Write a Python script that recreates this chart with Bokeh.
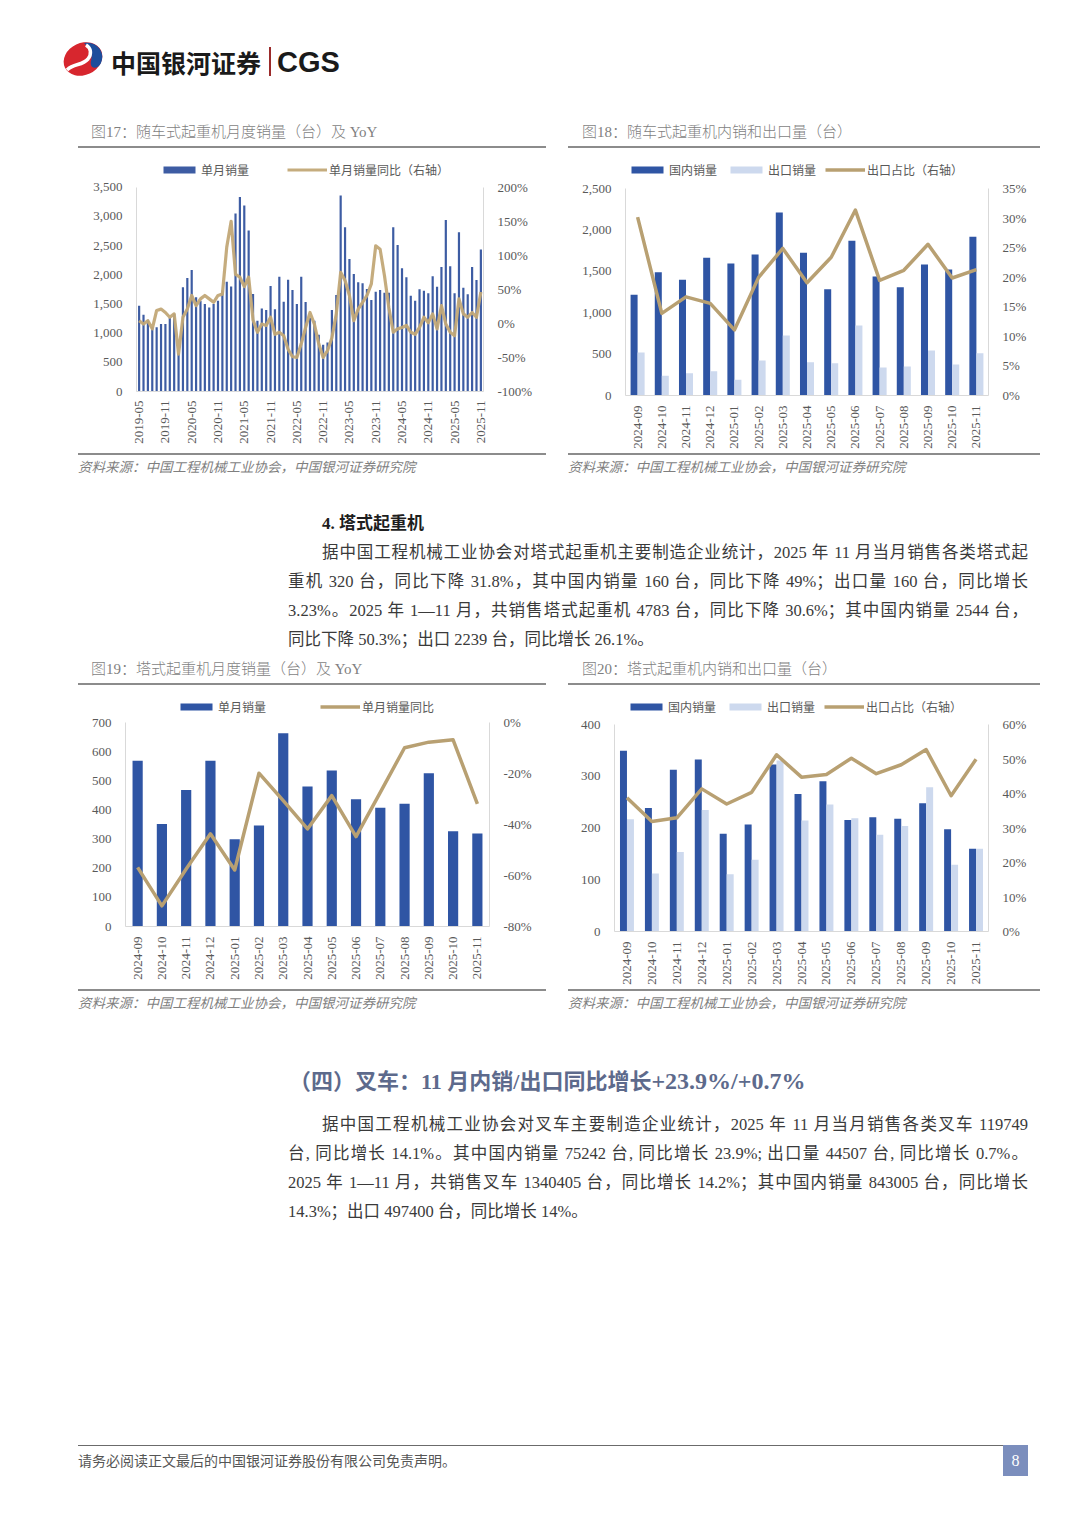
import math
from bokeh.plotting import figure
from bokeh.models import (Range1d, LinearAxis, FixedTicker, NumeralTickFormatter,
                          PrintfTickFormatter, Legend, LegendItem, Div, Spacer,
                          FactorRange, ColumnDataSource)
from bokeh.layouts import column, row
from bokeh.transform import dodge
from bokeh.embed import file_html
from bokeh.resources import INLINE

# ---------------- data ----------------
# Fig17: truck-mounted crane monthly sales 2019-05 .. 2025-11
f17_months = [f"{y}-{m:02d}" for y in range(2019, 2026) for m in range(1, 13)][4:4 + 79]
f17_tick_labels = ["2019-05", "2019-11", "2020-05", "2020-11", "2021-05", "2021-11", "2022-05",
                   "2022-11", "2023-05", "2023-11", "2024-05", "2024-11", "2025-05", "2025-11"]
f17_sales = [1470, 1316, 1230, 1110, 1100, 1155, 1155, 1260, 1330, 650,
             1785, 1945, 2080, 1613, 1555, 1500, 1440, 1500, 1555, 1730,
             1880, 1800, 3050, 3330, 3185, 2757, 1670, 1213, 1424, 1396,
             1808, 1407, 1968, 1539, 1916, 1739, 1499, 1968, 1533, 1258,
             1213, 972, 800, 840, 1396, 1653, 3357, 2814, 2270, 2013,
             1870, 1853, 1756, 1567, 1710, 1739, 1693, 1693, 2814, 2511,
             2111, 1956, 1642, 1556, 1750, 1727, 1682, 1973, 1796, 2134,
             2940, 2145, 1682, 2728, 1779, 1665, 2134, 1910, 2431]
f17_yoy = [4, -1, 4, -8, 19, 21, 16, 9, 14, -45,
           9, 21, 41, 26, 36, 41, 36, 31, 41, 43,
           112, 150, 72, 68, 54, 68, 5, -13, -1, -3,
           9, -16, -13, -18, -38, -49, -50, -30, -6, 16,
           -1, -30, -50, -40, -21, 14, 75, 63, 41, 4,
           21, 31, 41, 58, 114, 109, 70, 23, -13, -8,
           -6, -3, -13, -16, -6, 9, 1, 14, -8, 26,
           -1, -13, -18, 36, 14, 9, 16, 9, 46]

# Fig18: truck-mounted crane domestic / export
f18_months = ["2024-09", "2024-10", "2024-11", "2024-12", "2025-01", "2025-02", "2025-03", "2025-04",
              "2025-05", "2025-06", "2025-07", "2025-08", "2025-09", "2025-10", "2025-11"]
f18_domestic = [1218, 1492, 1399, 1665, 1597, 1706, 2214, 1726, 1286, 1871, 1440, 1310, 1585, 1524, 1919]
f18_export = [520, 238, 270, 294, 190, 423, 726, 403, 391, 847, 339, 351, 544, 375, 512]
f18_share = [30.2, 13.9, 16.7, 15.6, 11.1, 20.0, 24.9, 19.1, 23.4, 31.4, 19.5, 21.2, 25.6, 19.9, 21.3]

# Fig19: tower crane monthly sales and YoY
f19_months = f18_months
f19_sales = [570, 352, 469, 570, 300, 347, 664, 481, 536, 437, 408, 422, 527, 327, 320]
f19_yoy = [-56.8, -71.9, -57.4, -43.6, -57.8, -19.8, -30.6, -41.7, -28.6, -44.7, -27.3, -9.8, -7.6, -6.7, -31.8]

# Fig20: tower crane domestic / export
f20_months = f18_months
f20_domestic = [350, 239, 313, 333, 189, 207, 323, 266, 291, 216, 221, 218, 248, 198, 160]
f20_export = [217, 112, 154, 235, 111, 139, 331, 215, 246, 219, 187, 204, 279, 129, 160]
f20_share = [38.8, 31.9, 33.0, 41.4, 37.0, 40.4, 51.3, 44.8, 45.6, 50.3, 45.8, 48.4, 52.8, 39.4, 50.0]

# ---------------- styles ----------------
SERIF = "Liberation Serif"
CJK = "Noto Sans CJK SC"
BODY = "'Liberation Serif','Noto Sans CJK SC',serif"
TICK_COLOR = "#595959"
AXIS_LINE = "#d9d9d9"
BAR17 = "#3d5ca3"
DOM_BLUE = "#2f55a4"
EXP_BLUE = "#cdd9ee"
GOLD = "#b8a072"
RULE = "#8c8c8c"
TOP_BORDER = 6           # frame starts this far below the figure top (legend sits in the frame's top strip)
LEGEND_CENTER = 22       # legend centre, px below the figure top


def style_axis(ax, standoff):
    ax.axis_line_color = AXIS_LINE
    ax.axis_line_width = 1
    ax.major_tick_line_color = None
    ax.minor_tick_line_color = None
    ax.major_tick_out = 0
    ax.major_tick_in = 0
    ax.minor_tick_out = 0
    ax.minor_tick_in = 0
    ax.major_label_text_font = SERIF
    ax.major_label_text_font_size = "13px"
    ax.major_label_text_color = TICK_COLOR
    ax.major_label_standoff = standoff


def chart(width, height, x_range, left, right, bottom, data_px, lo, hi, step, rlo, rhi, rstep, left_fmt):
    """Figure whose axes run lo..hi (left) and rlo..rhi (right) over data_px pixels,
    with an empty strip above them for the legend."""
    frame_h = height - TOP_BORDER - bottom
    k = frame_h / data_px
    p = figure(width=width, height=height, x_range=x_range,
               y_range=Range1d(lo, lo + (hi - lo) * k),
               output_backend="svg", toolbar_location=None,
               min_border_left=left, min_border_right=right,
               min_border_top=TOP_BORDER, min_border_bottom=bottom, margin=0)
    p.outline_line_color = None
    p.xgrid.visible = False
    p.ygrid.visible = False
    style_axis(p.yaxis[0], 14)
    p.yaxis[0].ticker = FixedTicker(ticks=list(range(lo, hi + 1, step)))
    p.yaxis[0].bounds = (lo, hi)
    if left_fmt:
        p.yaxis[0].formatter = NumeralTickFormatter(format="0,0")
    style_axis(p.xaxis[0], 10)
    p.xaxis[0].major_label_orientation = math.pi / 2
    p.extra_y_ranges = {"r": Range1d(rlo, rlo + (rhi - rlo) * k)}
    ax = LinearAxis(y_range_name="r", ticker=FixedTicker(ticks=list(range(rlo, rhi + 1, rstep))),
                    formatter=PrintfTickFormatter(format="%d%%"), bounds=(rlo, rhi))
    style_axis(ax, 14)
    p.add_layout(ax, "right")
    return p, frame_h


def add_legend(p, items, spacing, x_off, frame_h):
    # location is measured in screen px from the frame's bottom-left corner
    y_bottom = frame_h - (LEGEND_CENTER - TOP_BORDER) - 8
    leg = Legend(items=items, orientation="horizontal", location=(x_off, y_bottom),
                 glyph_width=40, glyph_height=9, label_text_font=CJK,
                 label_text_font_size="12px", label_text_color=TICK_COLOR,
                 label_standoff=2, spacing=spacing, padding=0, margin=0,
                 label_height=16, border_line_color=None, background_fill_alpha=0)
    p.add_layout(leg)


def title_div(text, width, height, pad_left):
    html = (f'<div style="box-sizing:border-box;width:{width}px;height:{height}px;'
            f'padding-top:{height - 26}px;padding-left:{pad_left}px;line-height:20px;'
            f'border-bottom:2px solid {RULE};font-family:{BODY};font-size:15px;'
            f'font-weight:300;color:#7f7f7f;white-space:nowrap;">{text}</div>')
    return Div(text=html, width=width, height=height, margin=0)


def source_div(width, height):
    html = (f'<div style="box-sizing:border-box;width:{width}px;height:{height}px;'
            f'padding-top:4px;line-height:18px;border-top:2px solid {RULE};'
            f'font-family:{BODY};font-size:13.5px;font-style:italic;color:#7f7f7f;'
            f'white-space:nowrap;">资料来源：中国工程机械工业协会，中国银河证券研究院</div>')
    return Div(text=html, width=width, height=height, margin=0)


# ---------------- Fig17 ----------------
x17 = list(range(len(f17_sales)))
p17, fh17 = chart(468, 305, Range1d(-0.6, len(f17_sales) - 0.4), 58, 63, 62, 204.3,
                  0, 3500, 500, -100, 200, 50, True)
tick_pos17 = [f17_months.index(t) for t in f17_tick_labels]
p17.xaxis[0].ticker = FixedTicker(ticks=tick_pos17)
p17.xaxis[0].major_label_overrides = {i: f17_months[i] for i in tick_pos17}
p17.xaxis[0].major_label_standoff = 9
r17b = p17.vbar(x=x17, top=f17_sales, width=0.5, fill_color=BAR17, line_color=None)
r17l = p17.line(x=x17, y=f17_yoy, y_range_name="r", line_width=3.2, line_color="#c2a877",
                line_alpha=0.95, line_join="round")
add_legend(p17, [LegendItem(label="单月销量", renderers=[r17b]),
                 LegendItem(label="单月销量同比（右轴）", renderers=[r17l])], 38, 23, fh17)


# ---------------- Fig18 / Fig20 (domestic vs export) ----------------
def dom_exp_fig(months, dom, exp, share, width, height, left, right, bottom, data_px,
                ymax, ystep, rmax, rstep, bw, x_off):
    src = ColumnDataSource(dict(m=months, dom=dom, exp=exp, share=share))
    p, fh = chart(width, height, FactorRange(*months), left, right, bottom, data_px,
                  0, ymax, ystep, 0, rmax, rstep, True)
    rb1 = p.vbar(x=dodge("m", -bw / 2, range=p.x_range), top="dom", width=bw, source=src,
                 fill_color=DOM_BLUE, line_color=None)
    rb2 = p.vbar(x=dodge("m", bw / 2, range=p.x_range), top="exp", width=bw, source=src,
                 fill_color=EXP_BLUE, line_color=None)
    rl = p.line(x="m", y="share", y_range_name="r", source=src, line_width=3.5,
                line_color=GOLD, line_join="round")
    add_legend(p, [LegendItem(label="国内销量", renderers=[rb1]),
                   LegendItem(label="出口销量", renderers=[rb2]),
                   LegendItem(label="出口占比（右轴）", renderers=[rl])], 9, x_off, fh)
    return p


p18 = dom_exp_fig(f18_months, f18_domestic, f18_export, f18_share, 472, 305, 57, 52, 58, 206.7,
                  2500, 500, 35, 5, 0.29, 2)
p20 = dom_exp_fig(f20_months, f20_domestic, f20_export, f20_share, 472, 304, 46, 52, 58, 206.7,
                  400, 100, 60, 10, 0.28, 12)

# ---------------- Fig19 ----------------
src19 = ColumnDataSource(dict(m=f19_months, s=f19_sales, y=f19_yoy))
p19, fh19 = chart(468, 304, FactorRange(*f19_months), 47, 57, 63, 203.7,
                  0, 700, 100, -80, 0, 20, False)
r19b = p19.vbar(x="m", top="s", width=0.42, source=src19, fill_color=DOM_BLUE, line_color=None)
r19l = p19.line(x="m", y="y", y_range_name="r", source=src19, line_width=3.5,
                line_color=GOLD, line_join="round")
add_legend(p19, [LegendItem(label="单月销量", renderers=[r19b]),
                 LegendItem(label="单月销量同比", renderers=[r19l])], 54, 51, fh19)

# ---------------- page blocks ----------------
header_html = f'''
<div style="position:relative;width:1072px;height:115px;">
 <svg style="position:absolute;left:62px;top:41px" width="42" height="36" viewBox="0 0 42 36">
  <ellipse cx="21" cy="18" rx="20" ry="16" transform="rotate(-25 21 18)" fill="#d7262e"/>
  <path d="M22,2 C34,0 44,10 39,22 C36,29 27,28 29,20 C31,13 27,7 22,2 Z" fill="#1d4d9b"/>
  <path d="M5,29 C12,22 20,25 26,18 C30,13 29,7 24,4" stroke="#ffffff" stroke-width="3.5" fill="none"/>
 </svg>
 <div style="position:absolute;left:111px;top:44px;line-height:36px;font-size:25px;font-weight:bold;
  font-family:'Noto Sans CJK SC';color:#1a1a1a;white-space:nowrap;">中国银河证券</div>
 <div style="position:absolute;left:269px;top:47px;width:2px;height:29px;background:#9b2b2b;"></div>
 <div style="position:absolute;left:277px;top:44px;line-height:36px;font-size:29px;font-weight:bold;
  font-family:'Liberation Sans';color:#1a1a1a;">CGS</div>
</div>'''
header = Div(text=header_html, width=1072, height=115, margin=0)

JUST = "text-align:justify;text-align-last:justify;white-space:nowrap;"
sec4_lines = [
    "据中国工程机械工业协会对塔式起重机主要制造企业统计，2025 年 11 月当月销售各类塔式起",
    "重机 320 台，同比下降 31.8%，其中国内销量 160 台，同比下降 49%；出口量 160 台，同比增长",
    "3.23%。2025 年 1—11 月，共销售塔式起重机 4783 台，同比下降 30.6%；其中国内销量 2544 台，",
    "同比下降 50.3%；出口 2239 台，同比增长 26.1%。",
]
fork_lines = [
    "据中国工程机械工业协会对叉车主要制造企业统计，2025 年 11 月当月销售各类叉车 119749",
    "台, 同比增长 14.1%。其中国内销量 75242 台, 同比增长 23.9%; 出口量 44507 台, 同比增长 0.7%。",
    "2025 年 1—11 月，共销售叉车 1340405 台，同比增长 14.2%；其中国内销量 843005 台，同比增长",
    "14.3%；出口 497400 台，同比增长 14%。",
]


def para_html(lines):
    out = []
    for i, ln in enumerate(lines):
        st = JUST if i < len(lines) - 1 else "white-space:nowrap;"
        ind = "text-indent:34px;" if i == 0 else ""
        out.append(f'<div style="{st}{ind}">{ln}</div>')
    return "".join(out)


sec4_html = f'''
<div style="position:relative;width:1072px;height:166px;font-family:{BODY};color:#3a3a3a;">
 <div style="position:absolute;left:322px;top:24px;line-height:29px;font-size:17px;font-weight:bold;
  color:#1e1e1e;white-space:nowrap;">4. 塔式起重机</div>
 <div style="position:absolute;left:288px;top:53px;width:740px;font-size:16.5px;line-height:29px;">
  {para_html(sec4_lines)}
 </div>
</div>'''
sec4 = Div(text=sec4_html, width=1072, height=166, margin=0)

fork_html = f'''
<div style="position:relative;width:1072px;height:210px;font-family:{BODY};color:#3a3a3a;">
 <div style="position:absolute;left:289px;top:46px;line-height:30px;font-size:22px;font-weight:bold;
  color:#5d6a8c;white-space:nowrap;">（四）叉车：11 月内销/出口同比增长<span style="font-size:24px">+23.9%/+0.7%</span></div>
 <div style="position:absolute;left:288px;top:90px;width:740px;font-size:16.5px;line-height:29px;">
  {para_html(fork_lines)}
 </div>
</div>'''
fork = Div(text=fork_html, width=1072, height=210, margin=0)

footer_html = f'''
<div style="position:relative;width:1072px;height:50px;">
 <div style="position:absolute;left:78px;top:5px;width:925px;height:0;border-top:1.5px solid #6b6b6b;"></div>
 <div style="position:absolute;left:1003px;top:5px;width:25px;height:31px;background:#7b8ebd;color:#ffffff;
  font-family:'Liberation Serif';font-size:16px;line-height:31px;text-align:center;">8</div>
 <div style="position:absolute;left:78px;top:12px;line-height:20px;font-size:14px;color:#555555;
  font-family:{BODY};white-space:nowrap;">请务必阅读正文最后的中国银河证券股份有限公司免责声明。</div>
</div>'''
footer = Div(text=footer_html, width=1072, height=50, margin=0)

col17 = column([title_div("图17：随车式起重机月度销量（台）及 YoY", 468, 33, 13), p17,
                source_div(468, 32)], spacing=0, margin=0)
col18 = column([title_div("图18：随车式起重机内销和出口量（台）", 472, 33, 14), p18,
                source_div(472, 32)], spacing=0, margin=0)
col19 = column([title_div("图19：塔式起重机月度销量（台）及 YoY", 468, 34, 13), p19,
                source_div(468, 31)], spacing=0, margin=0)
col20 = column([title_div("图20：塔式起重机内销和出口量（台）", 472, 34, 14), p20,
                source_div(472, 31)], spacing=0, margin=0)

row1 = row([Spacer(width=78, height=10, margin=0), col17, Spacer(width=22, height=10, margin=0), col18],
           spacing=0, margin=0)
row2 = row([Spacer(width=78, height=10, margin=0), col19, Spacer(width=22, height=10, margin=0), col20],
           spacing=0, margin=0)

page = column([header, row1, sec4, row2, fork, Spacer(width=10, height=210, margin=0), footer],
              spacing=0, margin=0)

open("out.html", "w").write(file_html(page, INLINE, title="图17-图20"))
